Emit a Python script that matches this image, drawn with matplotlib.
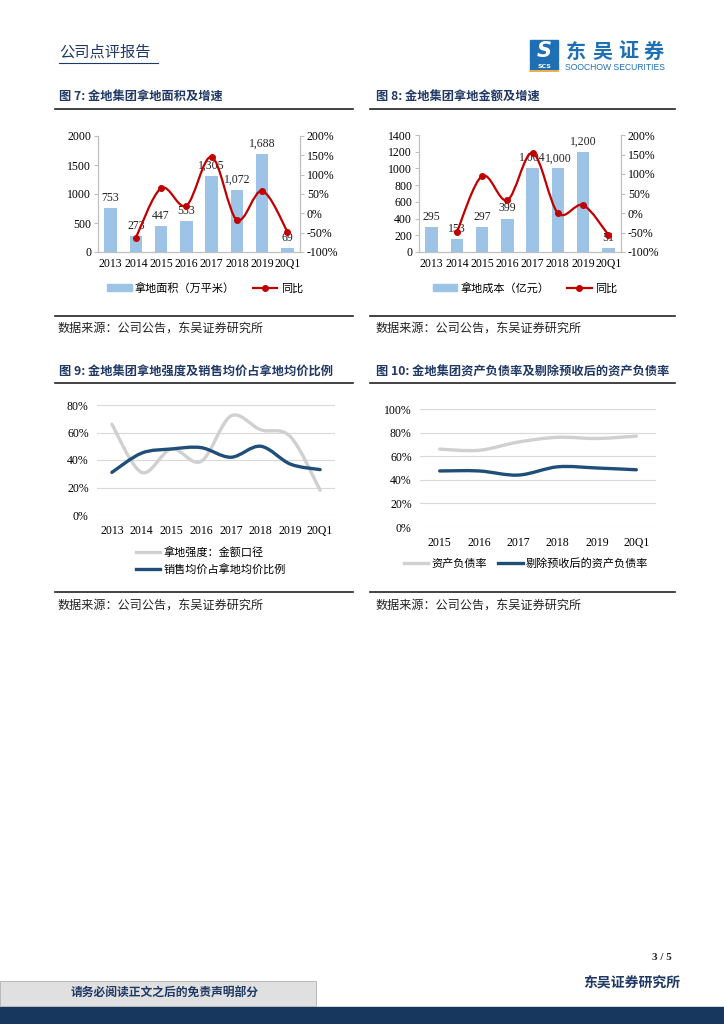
import numpy as np
import matplotlib.pyplot as plt
from matplotlib.path import Path
from matplotlib.patches import PathPatch, Rectangle
from matplotlib.lines import Line2D
from matplotlib.patches import Patch

plt.rcParams['font.family'] = ['Noto Sans CJK SC', 'DejaVu Sans']

# ---- data ----
years8 = ['2013', '2014', '2015', '2016', '2017', '2018', '2019', '20Q1']
years6 = ['2015', '2016', '2017', '2018', '2019', '20Q1']

land_area = [753, 273, 447, 533, 1305, 1072, 1688, 69]          # 万平米
land_area_yoy = [-63, 65, 20, 146, -17, 58, -47]                # %, from 2014
land_cost = [295, 153, 297, 399, 1004, 1000, 1200, 51]          # 亿元
land_cost_yoy = [-49, 95, 33, 154, 0, 20, -56]                  # %, from 2014

intensity = [66, 31, 48, 39, 72, 62, 57, 18]                    # 拿地强度：金额口径
price_ratio = [31, 45, 48, 49, 42, 50, 37, 33]                  # 销售均价占拿地均价比例

debt_ratio = [66, 65, 72, 76, 75, 77]                           # 资产负债率
debt_ratio_adj = [47.5, 47.5, 44, 51, 50, 48.5]                 # 剔除预收后的资产负债率

NAVY = '#1f3864'
BAR = '#9dc3e6'
RED = '#c00000'
GREY_LINE = '#d0d0d0'
DARK = '#1f4e79'
SERIF = 'Liberation Serif'

W, H = 724, 1024
fig = plt.figure(figsize=(W / 100, H / 100), dpi=100)


def fx(x):
    return x / W


def fy(y):
    return 1 - y / H


def axes_px(left, top, right, bottom):
    return fig.add_axes([fx(left), fy(bottom), (right - left) / W, (bottom - top) / H])


def smooth_line(ax, xs, ys, color, lw, zorder=3):
    # Excel-like smoothed line: cubic bezier through the points
    pts = np.column_stack([xs, ys]).astype(float)
    n = len(pts)
    verts = [pts[0]]
    codes = [Path.MOVETO]
    for i in range(n - 1):
        p0 = pts[i - 1] if i > 0 else pts[i]
        p1 = pts[i]
        p2 = pts[i + 1]
        p3 = pts[i + 2] if i + 2 < n else pts[i + 1]
        c1 = p1 + (p2 - p0) / 6
        c2 = p2 - (p3 - p1) / 6
        verts += [c1, c2, p2]
        codes += [Path.CURVE4] * 3
    patch = PathPatch(Path(verts, codes), fill=False, edgecolor=color, lw=lw,
                      capstyle='round', joinstyle='round', zorder=zorder)
    ax.add_patch(patch)


def hline(x0, x1, y, lw=1.2, color='#222222'):
    fig.add_artist(Line2D([fx(x0), fx(x1)], [fy(y), fy(y)], color=color, lw=lw))


# ---- page header ----
fig.text(fx(59), fy(52), '公司点评报告', fontsize=11, color=NAVY, va='center', ha='left')
hline(59, 158, 63, lw=0.8, color=NAVY)

# logo
LOGO = '#1f6fb5'
fig.add_artist(Rectangle((fx(530), fy(62)), 28 / W, 22 / H, color=LOGO, transform=fig.transFigure))
fig.text(fx(544), fy(51), 'S', fontsize=15, color='white', fontweight='bold',
         ha='center', va='center', style='italic', family='DejaVu Sans')
fig.add_artist(Rectangle((fx(530), fy(69)), 28 / W, 6 / H, color=LOGO, transform=fig.transFigure))
fig.text(fx(544), fy(66), 'SCS', fontsize=4.5, color='white', fontweight='bold',
         ha='center', va='center', family='DejaVu Sans')
hline(530, 558, 70.5, lw=1.2, color='#f0a030')
for i, ch in enumerate('东吴证券'):
    fig.text(fx(576 + 26 * i), fy(51), ch, fontsize=14.5, color=LOGO, fontweight='bold',
             ha='center', va='center')
fig.text(fx(615), fy(67), 'SOOCHOW SECURITIES', fontsize=6.2, color=LOGO,
         ha='center', va='center', family='Liberation Sans')

# ---- titles / sources ----
title_kw = dict(fontsize=8.8, color=NAVY, fontweight='bold', va='center', ha='left')
fig.text(fx(59), fy(97), '图 7: 金地集团拿地面积及增速', **title_kw)
fig.text(fx(376), fy(97), '图 8: 金地集团拿地金额及增速', **title_kw)
fig.text(fx(59), fy(372), '图 9: 金地集团拿地强度及销售均价占拿地均价比例', **title_kw)
fig.text(fx(376), fy(372), '图 10: 金地集团资产负债率及剔除预收后的资产负债率', **title_kw)
for y in (109, 383):
    hline(55, 353, y)
    hline(370, 675, y)
for y_line, y_txt in ((316, 328), (592, 605)):
    hline(55, 353, y_line)
    hline(370, 675, y_line)
    fig.text(fx(58), fy(y_txt), '数据来源：公司公告，东吴证券研究所', fontsize=8.7, color='#222222',
             va='center', ha='left')
    fig.text(fx(376), fy(y_txt), '数据来源：公司公告，东吴证券研究所', fontsize=8.7, color='#222222',
             va='center', ha='left')


# ---- charts 7 and 8: bars + yoy ----
def bar_yoy(box, values, yoy, ymax, ystep, bar_label, legend_center):
    ax = axes_px(*box)
    x = np.arange(len(years8))
    ax.bar(x, values, width=0.5, color=BAR, zorder=2)
    for xi, v in zip(x, values):
        ax.annotate(f'{v:,}', (xi, v), xytext=(0, 3), textcoords='offset points',
                    ha='center', va='bottom', fontsize=8.5, family=SERIF, color='#222222')
    ax.set_xlim(-0.5, len(years8) - 0.5)
    ax.set_ylim(0, ymax)
    ax.set_yticks(np.arange(0, ymax + 1, ystep))
    ax.set_xticks(x)
    ax.set_xticklabels(years8)
    ax2 = ax.twinx()
    ax2.set_ylim(-100, 200)
    ax2.set_yticks(np.arange(-100, 201, 50))
    ax2.set_yticklabels([f'{t}%' for t in range(-100, 201, 50)])
    xl = x[1:]
    smooth_line(ax2, xl, yoy, RED, 1.6)
    ax2.plot(xl, yoy, 'o', color=RED, ms=4, zorder=4)
    for a in (ax, ax2):
        a.spines['top'].set_visible(False)
        for s in ('left', 'right', 'bottom'):
            a.spines[s].set_color('#bfbfbf')
            a.spines[s].set_linewidth(0.8)
        a.tick_params(axis='y', length=3, color='#bfbfbf', labelsize=8.5, pad=2)
        a.tick_params(axis='x', length=0, labelsize=8.5, pad=4)
        for lab in a.get_xticklabels() + a.get_yticklabels():
            lab.set_family(SERIF)
    ax.set_zorder(1)
    ax2.set_zorder(2)
    handles = [Patch(color=BAR), Line2D([], [], color=RED, lw=1.6, marker='o', ms=4)]
    fig.legend(handles, [bar_label, '同比'], loc='center', ncol=2, frameon=False,
               bbox_to_anchor=(fx(legend_center[0]), fy(legend_center[1])),
               fontsize=8, handlelength=2.2, handleheight=0.6, columnspacing=1.6,
               handletextpad=0.3)


bar_yoy((98, 136, 300, 252), land_area, land_area_yoy, 2000, 500, '拿地面积（万平米）', (205, 288))
bar_yoy((419, 135, 621, 252), land_cost, land_cost_yoy, 1400, 200, '拿地成本（亿元）', (525, 288))


# ---- charts 9 and 10: smoothed lines ----
def line_chart(box, labels, series, colors, ymax, xlabsize):
    ax = axes_px(*box)
    x = np.arange(len(labels))
    for ys, c in zip(series, colors):
        smooth_line(ax, x, ys, c, 2.4)
    ax.set_xlim(-0.5, len(labels) - 0.5)
    ax.set_ylim(0, ymax)
    ax.set_yticks(np.arange(0, ymax + 1, 20))
    ax.set_yticklabels([f'{t}%' for t in range(0, ymax + 1, 20)])
    ax.set_xticks(x)
    ax.set_xticklabels(labels)
    ax.grid(axis='y', color='#d9d9d9', lw=0.8)
    ax.set_axisbelow(True)
    for s in ax.spines.values():
        s.set_visible(False)
    ax.tick_params(length=0, labelsize=8.5, pad=6)
    ax.tick_params(axis='x', labelsize=xlabsize, pad=7)
    for lab in ax.get_xticklabels() + ax.get_yticklabels():
        lab.set_family(SERIF)
    return [Line2D([], [], color=c, lw=2.4) for c in colors]


h9 = line_chart((97, 405, 335, 515), years8, [intensity, price_ratio], [GREY_LINE, DARK], 80, 8.5)
fig.legend(h9, ['拿地强度：金额口径', '销售均价占拿地均价比例'], loc='center left', frameon=False,
           bbox_to_anchor=(fx(126), fy(561)), fontsize=8, handlelength=2.2,
           handletextpad=0.3, labelspacing=0.55)

h10 = line_chart((420, 409, 656, 527), years6, [debt_ratio, debt_ratio_adj], [GREY_LINE, DARK], 100, 8.5)
fig.legend(h10, ['资产负债率', '剔除预收后的资产负债率'], loc='center', ncol=2, frameon=False,
           bbox_to_anchor=(fx(526), fy(564)), fontsize=8, handlelength=2.2,
           handletextpad=0.3, columnspacing=1.0)

# ---- footer ----
fig.text(fx(672), fy(958), '3 / 5', fontsize=8, fontweight='bold', family=SERIF,
         ha='right', va='center', color='#222222')
fig.text(fx(680), fy(984), '东吴证券研究所', fontsize=10, fontweight='bold', color=NAVY,
         ha='right', va='center')
fig.add_artist(Rectangle((0, 0), 1, 17 / H, color='#17375e', transform=fig.transFigure))
fig.add_artist(Rectangle((0, fy(1006)), 316 / W, 25 / H, facecolor='#e0e0e0',
                         edgecolor='#b0b0b0', lw=0.6, transform=fig.transFigure))
fig.text(fx(165), fy(993), '请务必阅读正文之后的免责声明部分', fontsize=8.5, fontweight='bold',
         color=NAVY, ha='center', va='center')

fig.savefig('out.png', dpi=100)
